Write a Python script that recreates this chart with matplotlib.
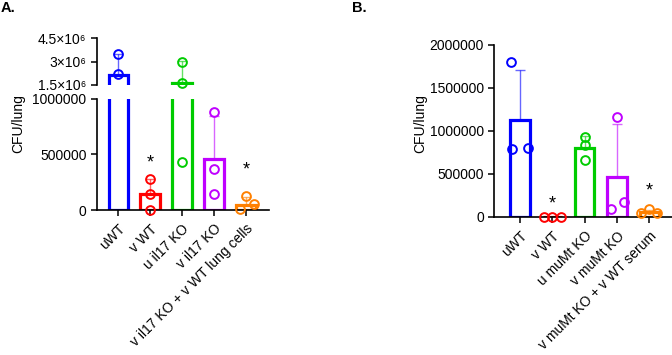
import matplotlib.pyplot as plt

plt.rcParams['font.family'] = ['Liberation Sans', 'DejaVu Sans']
plt.rcParams['font.size'] = 10

colors = ['#0000FF', '#FF0000', '#00CC00', '#BF00FF', '#FF8000']

# panel A data
labels_a = ['uWT', 'v WT', 'u il17 KO', 'v il17 KO', 'v il17 KO + v WT lung cells']
means_a = [2.17e6, 0.14e6, 1.62e6, 0.46e6, 0.048e6]
sd_a = [1.3e6, 0.14e6, 1.4e6, 0.38e6, 0.07e6]
points_a = [[3.45e6, 2.22e6], [0.28e6, 0.14e6, 0.0], [3.0e6, 1.6e6, 0.43e6],
            [0.88e6, 0.37e6, 0.14e6], [0.13e6, 0.05e6, 0.01e6]]
jitter_a = [[0, 0], [0, 0, 0], [0, 0, 0], [0, 0, 0], [0, 0.25, -0.2]]
stars_a = [(1, 0.42e6), (4, 0.36e6)]
upper_ticks_a = ['1.5×10⁶', '3×10⁶', '4.5×10⁶']

# panel B data
labels_b = ['uWT', 'v WT', 'u muMt KO', 'v muMt KO', 'v muMt KO + v WT serum']
means_b = [1.13e6, 0.004e6, 0.8e6, 0.47e6, 0.06e6]
sd_b = [0.58e6, 0.0, 0.14e6, 0.61e6, 0.025e6]
points_b = [[1.8e6, 0.79e6, 0.8e6], [0.0, 0.0, 0.0], [0.93e6, 0.83e6, 0.66e6],
            [1.16e6, 0.093e6, 0.17e6], [0.047e6, 0.09e6, 0.047e6]]
jitter_b = [[-0.28, -0.25, 0.25], [-0.25, 0, 0.25], [0, 0, 0], [0, -0.2, 0.22], [-0.25, 0, 0.25]]
stars_b = [(1, 0.15e6), (4, 0.3e6)]

W, H = 672, 355
fig = plt.figure(figsize=(W / 100, H / 100), dpi=100)


def px_axes(x0, y0, x1, y1):
    return fig.add_axes([x0 / W, 1 - y1 / H, (x1 - x0) / W, (y1 - y0) / H])


def style(ax):
    for s in ['top', 'right']:
        ax.spines[s].set_visible(False)
    for s in ['left', 'bottom']:
        ax.spines[s].set_linewidth(1.2)
    ax.tick_params(width=1.1, length=4, labelsize=10)
    ax.tick_params(axis='x', pad=4.5)


def draw(ax, means, sd, points, jitter, lo, hi):
    x = range(len(means))
    for i in x:
        c = colors[i]
        ax.bar(i, means[i], width=0.6, facecolor='white', edgecolor=c, linewidth=2.3, zorder=2)
        if sd[i] > 0:
            ax.errorbar(i, means[i], yerr=[[0], [sd[i]]], color=c, alpha=0.6, lw=1,
                        capsize=3.8, capthick=1, zorder=1)
        for p, j in zip(points[i], jitter[i]):
            if lo <= p <= hi:
                ax.plot(i + j, p, 'o', ms=6.3, mfc='none', mec=c, mew=1.4, zorder=3, clip_on=False)


# ---- panel A (broken axis)
axl = px_axes(97, 98.5, 269, 210)
axu = px_axes(97, 38, 269, 85)
for ax in (axl, axu):
    style(ax)
    ax.set_xlim(-0.66, 4.72)
draw(axl, means_a, sd_a, points_a, jitter_a, 0, 1.0e6)
draw(axu, means_a, sd_a, points_a, jitter_a, 1.5e6, 4.5e6)
axl.set_ylim(0, 1e6)
axl.set_yticks([0, 500000, 1000000])
axl.set_yticklabels(['0', '500000', '1000000'])
axu.set_ylim(1.5e6, 4.5e6)
axu.set_yticks([1.5e6, 3e6, 4.5e6])
axu.set_yticklabels(upper_ticks_a)
axu.spines['bottom'].set_visible(False)
axu.set_xticks([])
axl.set_xticks(range(5))
axl.set_xticklabels(labels_a, rotation=45, ha='right', rotation_mode='anchor')
for i, y in stars_a:
    axl.text(i, y, '*', ha='center', va='center', fontsize=13)
fig.text(18 / W, 1 - 124 / H, 'CFU/lung', rotation=90, ha='center', va='center', fontsize=10)
fig.text(1 / W, 1 - 8 / H, 'A.', fontweight='bold', fontsize=10.5, ha='left', va='center')

# ---- panel B
axb = px_axes(494.3, 44.7, 672, 217)
style(axb)
draw(axb, means_b, sd_b, points_b, jitter_b, 0, 2e6)
axb.set_xlim(-0.8, 4.7)
axb.set_ylim(0, 2e6)
axb.set_yticks([0, 500000, 1000000, 1500000, 2000000])
axb.set_yticklabels(['0', '500000', '1000000', '1500000', '2000000'])
axb.set_xticks(range(5))
axb.set_xticklabels(labels_b, rotation=45, ha='right', rotation_mode='anchor')
for i, y in stars_b:
    axb.text(i, y, '*', ha='center', va='center', fontsize=13)
fig.text(420 / W, 1 - 124 / H, 'CFU/lung', rotation=90, ha='center', va='center', fontsize=10)
fig.text(352 / W, 1 - 8 / H, 'B.', fontweight='bold', fontsize=10.5, ha='left', va='center')

fig.savefig('out.png', dpi=100)
